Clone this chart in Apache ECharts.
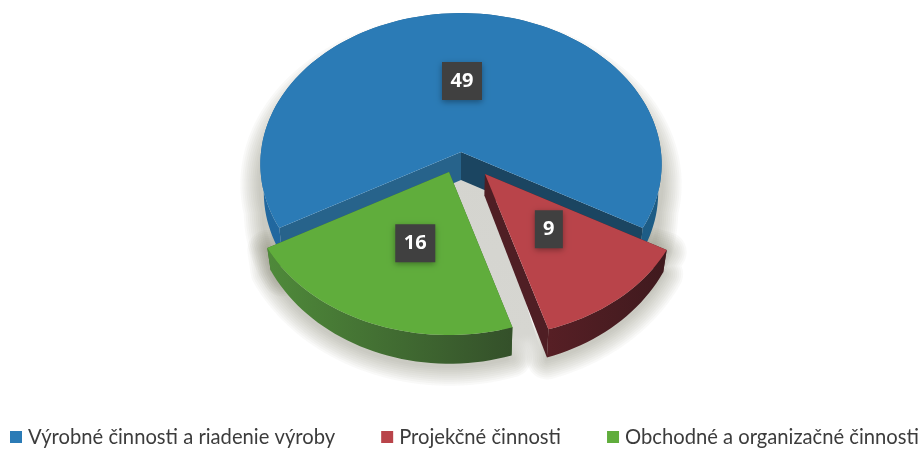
<!DOCTYPE html>
<html>
<head>
<meta charset="utf-8">
<style>
  html, body { margin: 0; padding: 0; background: #fff; }
  #main { width: 921px; height: 450px; }
</style>
<script src="https://cdn.jsdelivr.net/npm/echarts@6/dist/echarts.min.js"></script>
</head>
<body>
<div id="main"></div>
<script>
const categories = ['Výrobné činnosti a riadenie výroby', 'Projekčné činnosti', 'Obchodné a organizačné činnosti'];
const values = [49, 9, 16];

const topColors = ['#2b7bb6', '#b9444a', '#60ad3c'];
const wallFrom = ['#2168a0', '#571f25', '#4f8a3a'];
const wallTo = ['#1d5c85', '#3f1a1e', '#34502a'];
// 切面：起始边、结束边
const cutColors = [['#27638b', '#1b4561'], ['#4f1e24', '#4f1e24'], ['#3f6b30', '#3f6b30']];
// 炸开的偏移量（蓝色不动）
const offsets = [[0, 0], [24, 22], [-12, 20]];
// 标签相对扇区中心的微调
const labelNudges = [[1, 1], [-1, -5], [5, -1]];
const extraDepth = [6, 0, 0];

const cx = 461;
const cy = 152;
const radius = 200;
const tilt = 0.75;
const persp = 0.08;

const total = values.reduce((a, b) => a + b, 0);
// 蓝色扇区以正上方为中心
const firstAngle = -(values[0] / total) * 180;

function project(angle, r, off) {
  const rad = angle * Math.PI / 180;
  const X = Math.sin(rad) * r;
  const Y = -Math.cos(rad) * r;
  const f = 1 / (1 - persp * Y);
  return [cx + off[0] + X * radius * f, cy + off[1] + Y * radius * f * tilt, Y];
}

function lower(p, extra) {
  // 底面的点：向下并略微向中心收，前面厚一点
  const d = 22 + Math.max(0, p[2] - 0.485) * 13 + extra;
  return [cx + (p[0] - cx) * 0.983, p[1] + d];
}

function arcPoints(start, end, off) {
  const pts = [];
  const steps = Math.ceil((end - start) / 2);
  for (let i = 0; i <= steps; i++) {
    pts.push(project(start + (end - start) * i / steps, 1, off));
  }
  return pts;
}

function xy(p) {
  return [p[0], p[1]];
}

function sliceAngles(index) {
  let start = firstAngle;
  for (let i = 0; i < index; i++) start += values[i] / total * 360;
  return [start, start + values[index] / total * 360];
}

// 地面阴影要压在所有扇区下面，所以都放在第一个系列里画
// 用多层半透明描边叠出柔和的边缘
function buildShadow(index) {
  const angles = sliceAngles(index);
  const off = offsets[index];
  const arc = arcPoints(angles[0], angles[1], off);
  const apexLow = lower(project(0, 0, off), extraDepth[index]);
  const outline = [apexLow].concat(arc.map((p) => lower(p, extraDepth[index]))).concat(arc.map(xy).reverse());
  const layers = [];
  for (let w = 4; w <= 40; w += 4) {
    layers.push({
      type: 'polygon',
      y: index === 0 ? 20 : 2,
      shape: { points: outline },
      style: {
        fill: null,
        stroke: 'rgba(110,110,100,0.045)',
        lineWidth: w,
        lineJoin: 'round',
      },
    });
  }
  return layers;
}

// 红、绿两块之间的灰色缝隙，往下渐隐
function buildGap() {
  const boundary = sliceAngles(1)[1];
  const redApex = project(0, 0, offsets[1]);
  const redEnd = lower(project(boundary, 1, offsets[1]), 0);
  const greenApex = project(0, 0, offsets[2]);
  const greenEnd = lower(project(boundary, 1, offsets[2]), 0);
  return {
    type: 'polygon',
    shape: {
      points: [xy(greenApex), xy(redApex), [redEnd[0], redEnd[1] + 12], [greenEnd[0], greenEnd[1] + 12]],
    },
    style: {
      fill: new echarts.graphic.LinearGradient(0, 0, 0, 1, [
        { offset: 0, color: 'rgba(212,212,207,1)' },
        { offset: 0.82, color: 'rgba(214,214,209,1)' },
        { offset: 1, color: 'rgba(214,214,209,0)' },
      ]),
    },
  };
}

function buildSlice(index, value) {
  const angles = sliceAngles(index);
  const start = angles[0];
  const end = angles[1];
  const off = offsets[index];
  const extra = extraDepth[index];
  const apex = project(0, 0, off);
  const arc = arcPoints(start, end, off);
  const arcLow = arc.map((p) => lower(p, extra));
  const apexLow = lower(apex, extra);
  const first = arc[0];
  const last = arc[arc.length - 1];
  let children = [];

  if (index === 0) {
    children = children.concat(buildShadow(0), buildShadow(1), buildShadow(2), [buildGap()]);
  }
  // 切面
  children.push({
    type: 'polygon',
    shape: { points: [xy(apex), xy(first), lower(first, extra), apexLow] },
    style: { fill: cutColors[index][0] },
  });
  children.push({
    type: 'polygon',
    shape: { points: [xy(apex), xy(last), lower(last, extra), apexLow] },
    style: { fill: cutColors[index][1] },
  });
  // 外侧弧面
  children.push({
    type: 'polygon',
    shape: { points: arc.map(xy).concat(arcLow.slice().reverse()) },
    style: {
      fill: new echarts.graphic.LinearGradient(0, 0, 1, 0, [
        { offset: 0, color: wallFrom[index] },
        { offset: 1, color: wallTo[index] },
      ]),
    },
  });
  // 顶面
  children.push({
    type: 'polygon',
    shape: { points: [xy(apex)].concat(arc.map(xy)) },
    style: { fill: topColors[index] },
  });

  // 数值标签
  const mid = project((start + end) / 2, 0.5, off);
  const lx = mid[0] + labelNudges[index][0];
  const ly = mid[1] + labelNudges[index][1];
  const boxW = String(value).length > 1 ? 40 : 28;
  const boxH = 38;
  children.push({
    type: 'rect',
    shape: { x: lx - boxW / 2, y: ly - boxH / 2, width: boxW, height: boxH },
    style: { fill: '#404040', shadowBlur: 6, shadowColor: 'rgba(0,0,0,0.35)', shadowOffsetY: 2 },
  });
  children.push({
    type: 'text',
    style: {
      x: lx,
      y: ly,
      text: String(value),
      fill: '#fff',
      font: 'bold 20px "Open Sans"',
      align: 'center',
      verticalAlign: 'middle',
    },
  });
  return { type: 'group', children };
}

const series = categories.map((name, index) => ({
  name,
  type: 'custom',
  coordinateSystem: 'none',
  silent: true,
  itemStyle: { color: topColors[index] },
  data: [[values[index]]],
  renderItem: (params, api) => buildSlice(index, api.value(0)),
}));

const myChart = echarts.init(document.getElementById('main'), null, { renderer: 'canvas' });
myChart.setOption({
  animation: false,
  backgroundColor: '#fff',
  legend: {
    data: categories,
    left: 10,
    top: 427,
    width: 915,
    padding: 0,
    icon: 'rect',
    itemWidth: 12,
    itemHeight: 12,
    itemGap: 46,
    textStyle: { fontFamily: 'Lato', fontSize: 20.2, color: '#3c3c3c', padding: [0, 0, 0, 1] },
    selectedMode: false,
  },
  series,
});
</script>
</body>
</html>
